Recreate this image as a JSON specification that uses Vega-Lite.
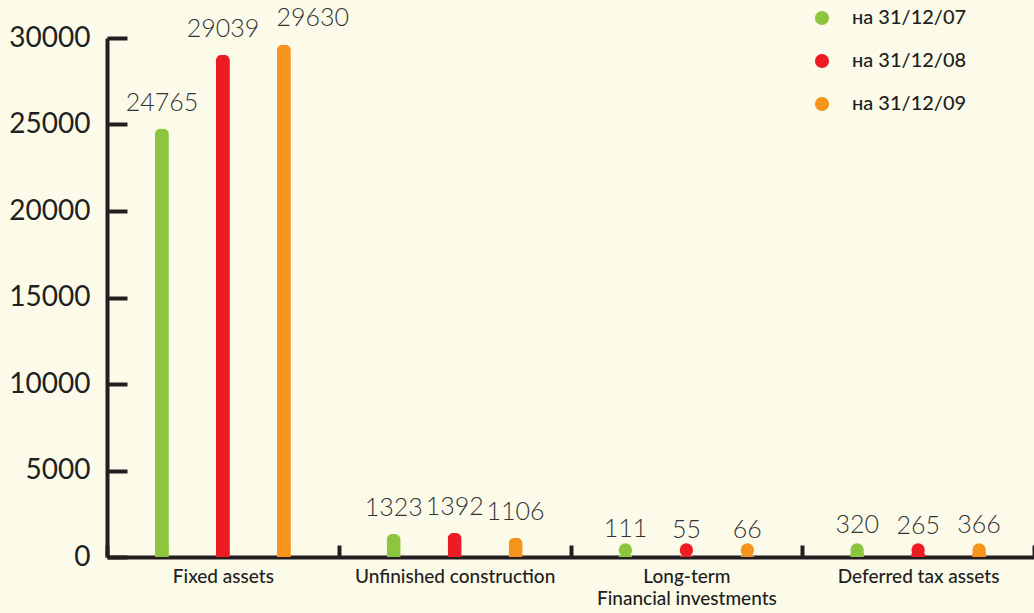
{
  "$schema": "https://vega.github.io/schema/vega-lite/v6.json",
  "width": 927,
  "height": 519,
  "autosize": {"type": "none"},
  "padding": {"left": 107, "top": 38, "right": 0, "bottom": 56},
  "background": "#fcfbea",
  "config": {"view": {"stroke": null}, "font": "Lato"},
  "data": {
    "values": [
      {"category": "Fixed assets", "date": "на 31/12/07", "value": 24765},
      {"category": "Fixed assets", "date": "на 31/12/08", "value": 29039},
      {"category": "Fixed assets", "date": "на 31/12/09", "value": 29630},
      {"category": "Unfinished construction", "date": "на 31/12/07", "value": 1323},
      {"category": "Unfinished construction", "date": "на 31/12/08", "value": 1392},
      {"category": "Unfinished construction", "date": "на 31/12/09", "value": 1106},
      {"category": "Long-term Financial investments", "date": "на 31/12/07", "value": 111},
      {"category": "Long-term Financial investments", "date": "на 31/12/08", "value": 55},
      {"category": "Long-term Financial investments", "date": "на 31/12/09", "value": 66},
      {"category": "Deferred tax assets", "date": "на 31/12/07", "value": 320},
      {"category": "Deferred tax assets", "date": "на 31/12/08", "value": 265},
      {"category": "Deferred tax assets", "date": "на 31/12/09", "value": 366}
    ]
  },
  "encoding": {
    "x": {
      "field": "category",
      "type": "nominal",
      "sort": ["Fixed assets", "Unfinished construction", "Long-term Financial investments", "Deferred tax assets"],
      "scale": {"paddingInner": 0, "paddingOuter": 0},
      "axis": {
        "title": null,
        "domainWidth": 4,
        "domainColor": "#231f20",
        "tickBand": "extent",
        "tickSize": -12,
        "tickWidth": 4,
        "tickColor": "#231f20",
        "labelAngle": 0,
        "labelFontSize": 19,
        "labelFontWeight": 500,
        "labelPadding": 22,
        "labelLimit": 400,
        "labelColor": "#231f20",
        "labelLineHeight": 22,
        "labelBaseline": "top",
        "labelExpr": "datum.label == 'Long-term Financial investments' ? ['Long-term', 'Financial investments'] : datum.label"
      }
    },
    "xOffset": {
      "field": "date",
      "type": "nominal",
      "sort": ["на 31/12/07", "на 31/12/08", "на 31/12/09"],
      "scale": {"paddingInner": 0.77, "paddingOuter": 0.785}
    }
  },
  "layer": [
    {
      "mark": {"type": "bar", "cornerRadiusTopLeft": 6, "cornerRadiusTopRight": 6},
      "encoding": {
        "y": {
          "field": "value",
          "type": "quantitative",
          "scale": {"domain": [0, 30000]},
          "axis": {
            "title": null,
            "grid": false,
            "values": [0, 5000, 10000, 15000, 20000, 25000, 30000],
            "format": "d",
            "domainWidth": 4,
            "domainColor": "#231f20",
            "tickSize": -20,
            "tickWidth": 4,
            "tickColor": "#231f20",
            "labelFontSize": 28,
            "labelColor": "#231f20",
            "labelPadding": 37
          }
        },
        "color": {
          "field": "date",
          "type": "nominal",
          "scale": {"domain": ["на 31/12/07", "на 31/12/08", "на 31/12/09"], "range": ["#8cc63f", "#ed1c24", "#f7941d"]},
          "legend": {
            "orient": "none",
            "legendX": 705,
            "legendY": -30,
            "title": null,
            "symbolType": "circle",
            "symbolSize": 200,
            "symbolStrokeWidth": 0,
            "labelFontSize": 20,
            "labelFontWeight": 500,
            "labelColor": "#231f20",
            "labelOffset": 20,
            "rowPadding": 23
          }
        }
      }
    },
    {
      "mark": {"type": "point", "filled": true, "size": 180, "opacity": 1, "yOffset": -7},
      "encoding": {
        "y": {"datum": 0, "type": "quantitative"},
        "color": {"field": "date", "type": "nominal"}
      }
    },
    {
      "transform": [{"filter": "datum.value != 29630"}],
      "mark": {"type": "text", "baseline": "bottom", "dy": -13, "fontSize": 25, "fontWeight": 300, "color": "#333333"},
      "encoding": {
        "y": {"field": "value", "type": "quantitative"},
        "text": {"field": "value", "type": "quantitative", "format": "d"}
      }
    },
    {
      "transform": [{"filter": "datum.value == 29630"}],
      "mark": {"type": "text", "baseline": "bottom", "dx": 29, "dy": -13, "fontSize": 25, "fontWeight": 300, "color": "#333333"},
      "encoding": {
        "y": {"field": "value", "type": "quantitative"},
        "text": {"field": "value", "type": "quantitative", "format": "d"}
      }
    }
  ]
}
